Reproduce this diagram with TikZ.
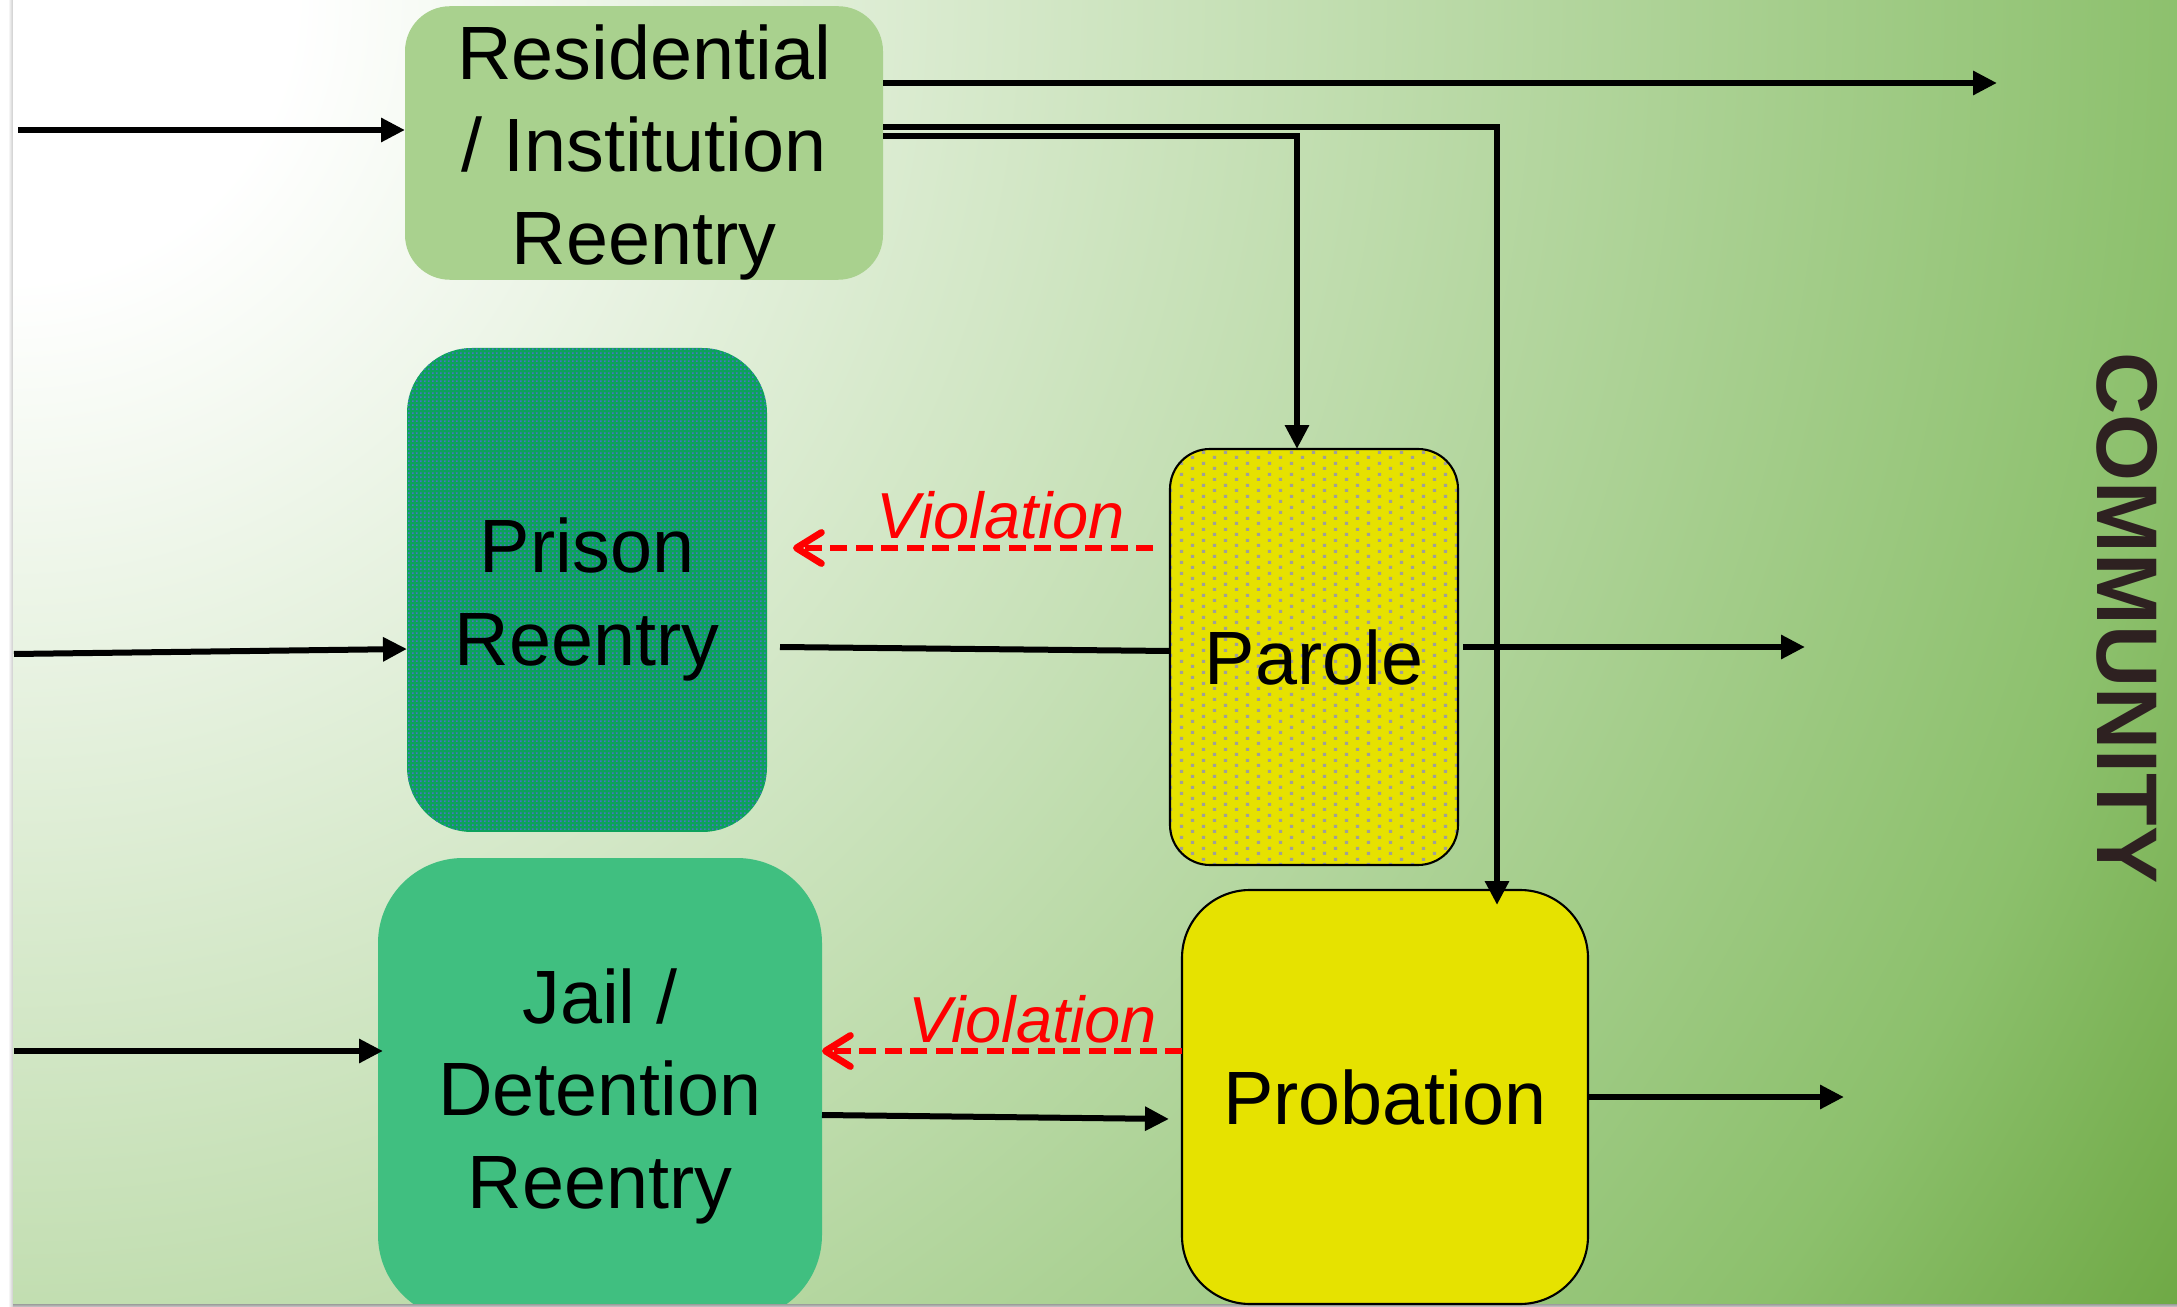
\documentclass[tikz,border=0pt]{standalone}
\usepackage{fontspec}
\setmainfont{Liberation Sans}
\usetikzlibrary{arrows.meta,calc,patterns.meta}

% palette
\definecolor{bgA}{RGB}{255,255,255}
\definecolor{bgB}{RGB}{194,222,177}
\definecolor{bgC}{RGB}{140,192,108}
\definecolor{bgD}{RGB}{110,168,68}
\definecolor{resfill}{RGB}{169,209,142}
\definecolor{prisonfill}{RGB}{12,162,92}
\definecolor{prisondot}{RGB}{72,118,196}
\definecolor{parolefill}{RGB}{230,225,0}
\definecolor{paroledot}{RGB}{160,160,150}
\definecolor{jailfill}{RGB}{64,191,128}
\definecolor{probfill}{RGB}{230,226,0}
\definecolor{violred}{RGB}{255,0,0}
\definecolor{commtext}{RGB}{46,33,33}

% slide backdrop: radial fade from the top-left corner
\pgfdeclareradialshading{slidebg}{\pgfpointorigin}{color(0mm)=(bgA); color(28mm)=(bgA); color(130mm)=(bgB); color(218mm)=(bgC); color(254mm)=(bgD)}

% staggered grey dots for the parole box
\tikzdeclarepattern{
  name=paroledots, type=uncolored,
  bounding box={(0mm,0mm) and (2.2mm,1.1mm)},
  tile size={(2.2mm,1.1mm)},
  code={
    \pgfpathrectangle{\pgfpoint{0.4mm}{0.125mm}}{\pgfpoint{0.32mm}{0.32mm}}
    \pgfpathrectangle{\pgfpoint{1.5mm}{0.675mm}}{\pgfpoint{0.32mm}{0.32mm}}
    \pgfusepath{fill}
  }
}
% fine dot texture for the prison box
\tikzdeclarepattern{
  name=prisondots, type=uncolored,
  bounding box={(0mm,0mm) and (0.4mm,0.4mm)},
  tile size={(0.4mm,0.4mm)},
  code={
    \pgfpathrectangle{\pgfpoint{0.12mm}{0.12mm}}{\pgfpoint{0.14mm}{0.14mm}}
    \pgfusepath{fill}
  }
}

\tikzset{
  panel/.style={rounded corners=#1, inner sep=0pt, outer sep=0pt, align=center,
    font=\fontsize{21.5pt}{26.3pt}\selectfont, text=black},
  flow/.style={line width=0.6mm, -{Triangle[length=2.4mm,width=2.3mm]}},
  plainflow/.style={line width=0.6mm},
  viol/.style={draw=violred, line width=0.68mm, dash pattern=on 1.7mm off 0.85mm,
    -{Straight Barb[length=2.5mm,width=3.1mm,round]}},
  viollabel/.style={text=violred, font=\fontsize{18.5pt}{22pt}\selectfont\itshape,
    inner sep=0pt, anchor=base},
}

\begin{document}
\begin{tikzpicture}[x=0.1mm, y=-0.1mm]
\useasboundingbox (0,0) rectangle (2177,1307);
\fill[white] (0,0) rectangle (2177,1307);
% page shadow
\shade[left color=white, right color=black!20] (8,0) rectangle (13,1307);
\shade[top color=black!45, bottom color=black!20] (13,1303) rectangle (2177,1307);

\begin{scope}
  \clip (13,0) rectangle (2177,1303);
  \node[inner sep=0pt, outer sep=0pt] (backdrop) at (13,0) {\pgfuseshading{slidebg}};
  \node[panel=8.5mm, fill=jailfill, minimum width=44.4mm, minimum height=46.2mm]
    (jail) at (600,1089) {\rule{0pt}{6.9mm}Jail /\\Detention\\Reentry};
\end{scope}

% boxes
\node[panel=4.5mm, fill=resfill, minimum width=47.8mm, minimum height=27.2mm]
  (res) at (644,143) {\rule{0pt}{7.3mm}Residential\\/ Institution\\Reentry};
\node[panel=6.5mm, minimum width=36mm, minimum height=48.4mm,
  preaction={fill=prisonfill}, preaction={pattern=prisondots, pattern color=prisondot}]
  (prison) at (587,590) {\rule{0pt}{7.4mm}Prison\\Reentry};
\node[panel=4mm, minimum width=28.8mm, minimum height=41.6mm, draw=black, line width=0.6pt,
  preaction={fill=parolefill}, preaction={pattern=paroledots, pattern color=paroledot}]
  (parole) at (1314,657) {Parole};
\node[panel=6.8mm, fill=probfill, draw=black, line width=0.6pt,
  minimum width=40.6mm, minimum height=41.4mm]
  (prob) at (1385,1097) {Probation};

% side label
\node[rotate=-90, text=commtext, font=\fontsize{24.5pt}{28pt}\selectfont\bfseries,
  inner sep=0pt] (comm) at (2127,618) {COMMUNITY};

% entry arrows from the left
\coordinate (inA) at (18,130);
\coordinate (inB) at (14,654);
\coordinate (inC) at (14,1051);
\draw[flow] (inA) -- (inA -| res.west);
\draw[flow] (inB) -- ($(prison.west)+(0,59)$);
\draw[flow] (inC) -- ($(jail.west)+(5,-38)$);

% residential exits
\coordinate (topend) at (1997,83);
\coordinate (rpbend) at (1297,136);
\coordinate (rqbend) at (1497,127);
\draw[flow] (topend -| res.east) -- (topend);
\draw[flow] (rpbend -| res.east) -- (rpbend) -- (rpbend |- parole.north);
\draw[flow] (rqbend -| res.east) -- (rqbend) -- ($(rqbend |- prob.north)+(0,15)$);

% prison / jail to supervision
\draw[plainflow] ($(prison.east)+(13,57)$) -- ($(parole.west)+(0,-6)$);
\draw[flow] ($(jail.east)+(0,26)$) -- ($(prob.west)+(-13,22)$);

% violations back to custody
\draw[viol] ($(parole.west)+(-17,-109)$) -- ($(prison.east)+(26,-42)$);
\draw[viol] ($(prob.west)+(0,-46)$) -- ($(jail.east)+(0,-38)$);
\node[viollabel] (v1) at (1001,538) {Violation};
\node[viollabel] (v2) at (1033,1042) {Violation};

% exits into the community
\coordinate (outPa) at (1805,647);
\coordinate (outPb) at (1844,1097);
\draw[flow] ($(parole.east)+(5,-10)$) -- (outPa);
\draw[flow] (prob.east) -- (outPb);
\end{tikzpicture}
\end{document}
